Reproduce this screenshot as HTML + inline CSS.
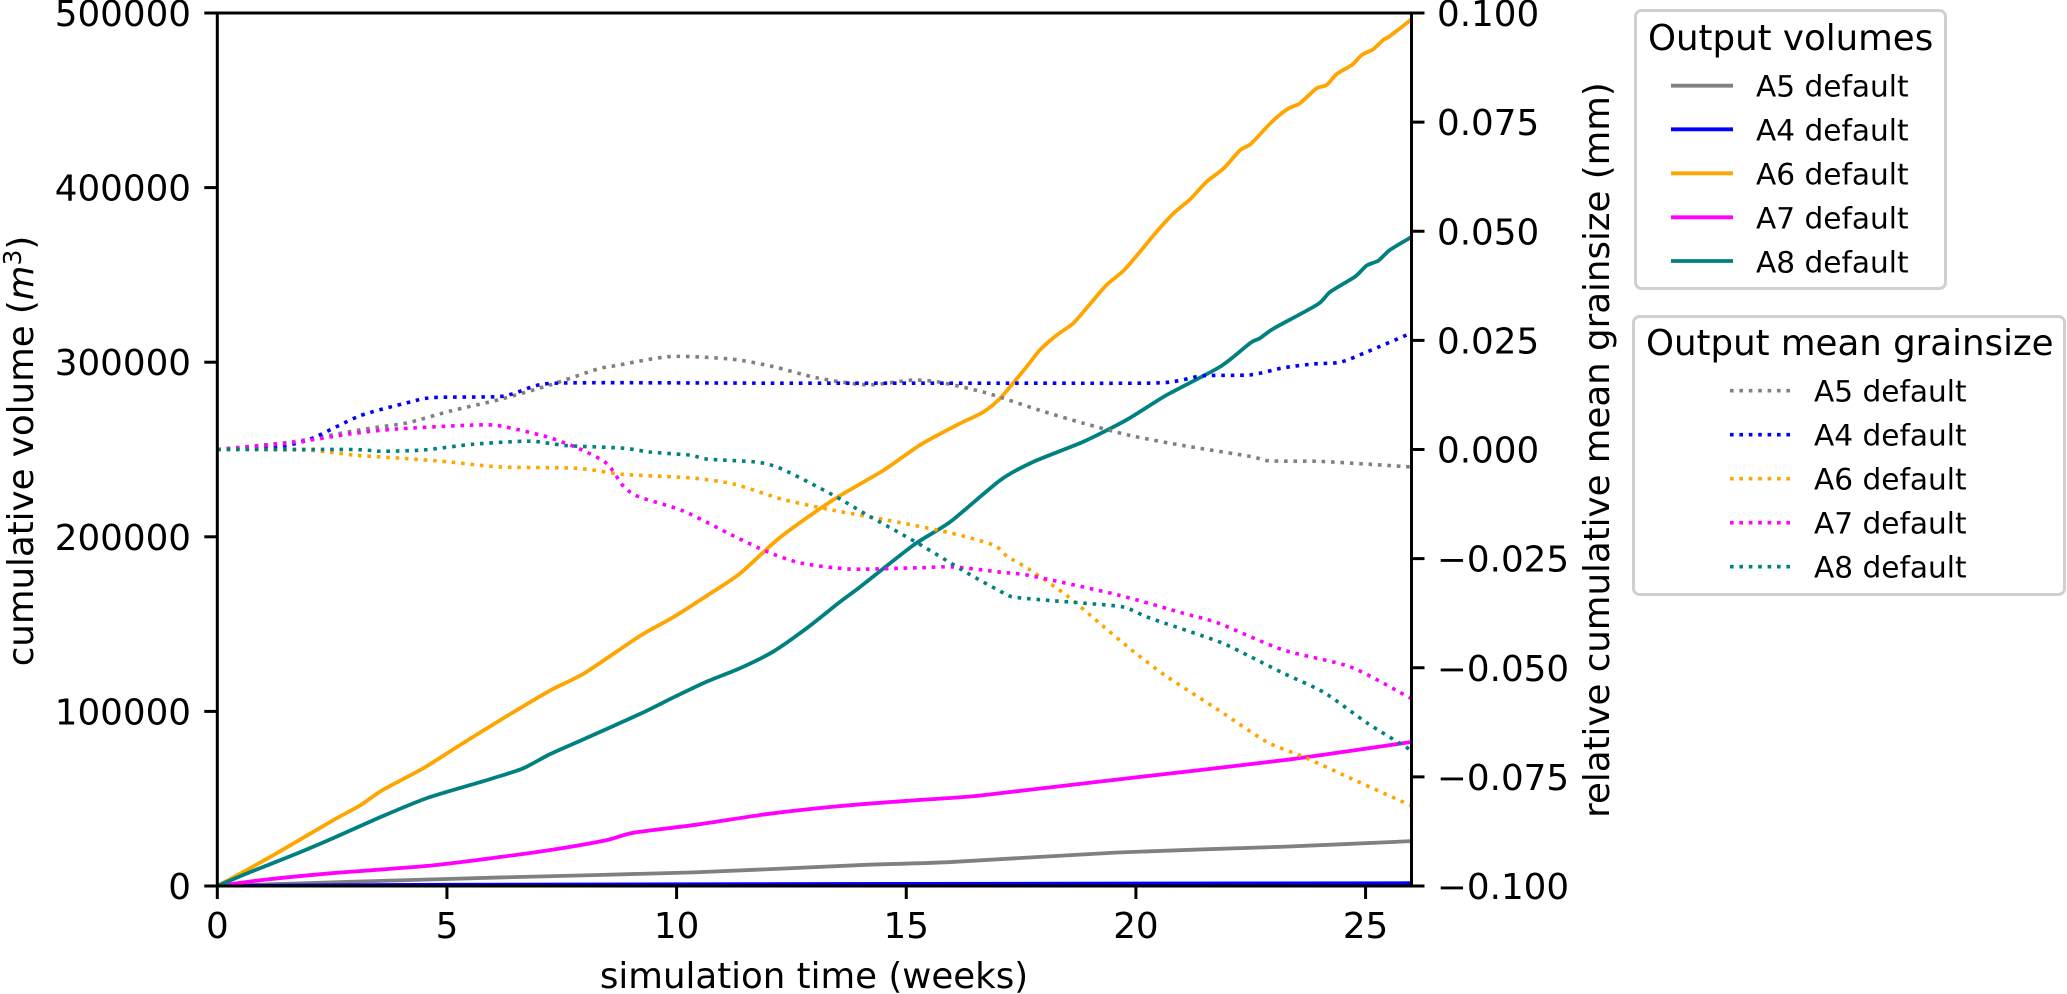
<!DOCTYPE html>
<html lang="en">
<head>
<meta charset="utf-8">
<title>Cumulative volume and mean grainsize</title>
<style>
html,body{margin:0;padding:0;background:#fff;width:2067px;height:994px;overflow:hidden}
svg{display:block}
text{font-family:"DejaVu Sans","Liberation Sans",sans-serif;fill:#000}
.tick{font-size:35.7px}
.axis-title{font-size:35.6px}
.lg-title{font-size:35.6px}
.lg-entry{font-size:29.6px}
.lg-box{fill:#fff;stroke:#d0d0d0;stroke-width:3}
.solid{fill:none;stroke-width:3.8;stroke-linejoin:round}
.dotted{fill:none;stroke-width:3.6;stroke-dasharray:3.6 5.8}
</style>
</head>
<body>
<svg id="chart" xmlns="http://www.w3.org/2000/svg" width="2067" height="994" viewBox="0 0 2067 994">
  <defs><clipPath id="plot-clip"><rect x="217.3" y="13" width="1194.2" height="873"/></clipPath></defs>
  <g id="series-volume" clip-path="url(#plot-clip)"></g>
  <g id="series-grain" clip-path="url(#plot-clip)"></g>
  <rect x="217.3" y="13" width="1194.2" height="873" fill="none" stroke="#000" stroke-width="3"/>
  <g id="ticks"></g>
  <text class="axis-title" x="814" y="988" text-anchor="middle">simulation time (weeks)</text>
  <text class="axis-title" transform="translate(33 451) rotate(-90)" text-anchor="middle">cumulative volume (<tspan font-style="italic">m</tspan><tspan font-size="25px" dy="-12">3</tspan><tspan dy="12">)</tspan></text>
  <text class="axis-title" transform="translate(1609 450) rotate(-90)" text-anchor="middle">relative cumulative mean grainsize (mm)</text>

  <g>
    <rect class="lg-box" x="1635.5" y="10.5" width="310" height="278" rx="6"/>
    <text class="lg-title" x="1648" y="50">Output volumes</text>
    <line x1="1671" x2="1733" y1="85.7" y2="85.7" stroke="#808080" stroke-width="3.8"/>
    <text class="lg-entry" x="1756" y="96.5">A5 default</text>
    <line x1="1671" x2="1733" y1="129.3" y2="129.3" stroke="#0000ff" stroke-width="3.8"/>
    <text class="lg-entry" x="1756" y="140.5">A4 default</text>
    <line x1="1671" x2="1733" y1="173.3" y2="173.3" stroke="#ffa500" stroke-width="3.8"/>
    <text class="lg-entry" x="1756" y="184.3">A6 default</text>
    <line x1="1671" x2="1733" y1="217.3" y2="217.3" stroke="#ff00ff" stroke-width="3.8"/>
    <text class="lg-entry" x="1756" y="228.3">A7 default</text>
    <line x1="1671" x2="1733" y1="261" y2="261" stroke="#008080" stroke-width="3.8"/>
    <text class="lg-entry" x="1756" y="272.3">A8 default</text>
  </g>

  <g>
    <rect class="lg-box" x="1633.5" y="316.5" width="431" height="278" rx="6"/>
    <text class="lg-title" x="1646" y="355">Output mean grainsize</text>
    <line class="dotted" x1="1730" x2="1790" y1="390.7" y2="390.7" stroke="#808080"/>
    <text class="lg-entry" x="1814" y="401.7">A5 default</text>
    <line class="dotted" x1="1730" x2="1790" y1="434.7" y2="434.7" stroke="#0000ff"/>
    <text class="lg-entry" x="1814" y="445.7">A4 default</text>
    <line class="dotted" x1="1730" x2="1790" y1="478.7" y2="478.7" stroke="#ffa500"/>
    <text class="lg-entry" x="1814" y="489.7">A6 default</text>
    <line class="dotted" x1="1730" x2="1790" y1="522.7" y2="522.7" stroke="#ff00ff"/>
    <text class="lg-entry" x="1814" y="533.7">A7 default</text>
    <line class="dotted" x1="1730" x2="1790" y1="566.7" y2="566.7" stroke="#008080"/>
    <text class="lg-entry" x="1814" y="577.7">A8 default</text>
  </g>
</svg>
<script>
// Tick labels
const xTicks = [0, 5, 10, 15, 20, 25];
const leftTicks = [0, 100000, 200000, 300000, 400000, 500000];
const rightTicks = [-0.1, -0.075, -0.05, -0.025, 0, 0.025, 0.05, 0.075, 0.1];

// Cumulative volumes (m3): weeks and values
const volA5T = [0, 3, 6.16, 10.37, 14, 15.96, 19.6, 23.2, 26];
const volA5V = [0, 2500, 4900, 7800, 12000, 13700, 19200, 22500, 25700];
const volA4T = [0, 5, 15, 26];
const volA4V = [0, 700, 1200, 1600];
const volA6T = [0, 0.72, 1.44, 2.53, 3.1, 3.6, 4.49, 5.3, 6.16, 7.25, 8, 9.2, 9.93, 10.65, 11.38, 12.26, 13.4, 14.5, 15.3, 16.1, 16.68, 17.05, 17.6, 17.91, 18.28, 18.64, 19, 19.36, 19.73, 20.09, 20.45, 20.82, 21.18, 21.54, 21.91, 22.27, 22.5, 22.96, 23.3, 23.57, 23.93, 24.15, 24.37, 24.7, 24.92, 25.17, 25.38, 25.53, 26];
const volA6V = [0, 10300, 21000, 37800, 46000, 55000, 67500, 81000, 95000, 112000, 122000, 143200, 154000, 166100, 179000, 199800, 221000, 238000, 252600, 264000, 271500, 279500, 296700, 307000, 315600, 322400, 333300, 344200, 352400, 363300, 374700, 385300, 393300, 403400, 411000, 421500, 425000, 437700, 445000, 448300, 456800, 458700, 465000, 470200, 476000, 479300, 484500, 486800, 496400];
const volA7T = [0, 1, 2.53, 4.57, 6.16, 7.25, 8.48, 9.06, 10.37, 11.97, 13.4, 15.02, 16.33, 17.48, 19.6, 23.2, 26];
const volA7V = [0, 3500, 7400, 11500, 16600, 20600, 26300, 30500, 34900, 41200, 45400, 48800, 51100, 54500, 61000, 72000, 82500];
const volA8T = [0, 0.72, 1.66, 2.53, 3.6, 4.57, 5.66, 6.16, 6.67, 7.25, 7.97, 9.2, 9.93, 10.65, 11.38, 12.1, 12.83, 13.56, 14, 15.16, 15.96, 17.05, 17.77, 18.86, 19.8, 20.67, 21.84, 22.49, 22.7, 23, 23.95, 24.23, 24.77, 25.02, 25.28, 25.53, 26];
const volA8V = [0, 8000, 17800, 27500, 40000, 50400, 59000, 63000, 67500, 75600, 84000, 98500, 108000, 117000, 124700, 134200, 147600, 162800, 171400, 195300, 208600, 232500, 243000, 254500, 267000, 281200, 297500, 311000, 313700, 319300, 333000, 340300, 349000, 355300, 358200, 364300, 371700];

// Relative cumulative mean grainsize (mm): weeks and values
const grainA5T = [0, 1.66, 3.1, 4.13, 5.07, 6.16, 7.25, 8.27, 8.67, 9.86, 11.2, 12.1, 13.06, 14.15, 15.13, 15.74, 16.55, 16.98, 17.9, 18.86, 19.88, 21.03, 22.5, 22.9, 23.95, 24.95, 26];
const grainA5V = [0, 0.0018, 0.0045, 0.0061, 0.0088, 0.0115, 0.0148, 0.0184, 0.0192, 0.0213, 0.0207, 0.019, 0.0164, 0.0148, 0.0159, 0.0154, 0.0135, 0.0122, 0.009, 0.006, 0.0032, 0.0009, -0.0016, -0.0026, -0.0027, -0.0033, -0.004];
const grainA4T = [0, 1.3, 2.03, 3.1, 4.13, 4.7, 6.1, 6.5, 7.1, 8.34, 12, 17, 20.25, 20.9, 21.47, 22.5, 23.2, 23.86, 24.45, 25.04, 26];
const grainA4V = [0, 0.0006, 0.0024, 0.0077, 0.0107, 0.0119, 0.0121, 0.013, 0.015, 0.0153, 0.0152, 0.0152, 0.0152, 0.0157, 0.0169, 0.0171, 0.0187, 0.0196, 0.02, 0.0224, 0.0267];
const grainA6T = [0, 2, 3, 4, 5, 6.16, 7.83, 8.84, 10.3, 11.24, 12.3, 13.4, 14.5, 15.96, 16.9, 17.2, 17.7, 18.5, 19.2, 19.95, 20.67, 21.8, 22.85, 23.65, 24.67, 25.87, 26];
const grainA6V = [0, -0.0002, -0.0013, -0.002, -0.0028, -0.004, -0.0043, -0.0057, -0.0065, -0.0079, -0.0114, -0.0139, -0.016, -0.0191, -0.0219, -0.0245, -0.0276, -0.0335, -0.0397, -0.0463, -0.052, -0.0597, -0.067, -0.0704, -0.0753, -0.081, -0.0815];
const grainA7T = [0, 1.66, 2.9, 3.9, 5.57, 6.16, 7.18, 7.94, 8.49, 8.84, 9.17, 10.15, 11.24, 11.97, 12.7, 13.78, 15.24, 16.03, 17.05, 17.7, 19.6, 21.03, 21.8, 23.2, 24.67, 25.9, 26];
const grainA7V = [0, 0.0016, 0.0036, 0.0047, 0.0056, 0.0054, 0.0029, -0.0001, -0.0033, -0.0084, -0.0108, -0.0141, -0.0198, -0.0234, -0.026, -0.0274, -0.0271, -0.0269, -0.0281, -0.0289, -0.0333, -0.0375, -0.0398, -0.0459, -0.0498, -0.0565, -0.057];
const grainA8T = [0, 2.9, 3.55, 4.5, 5.57, 6.8, 7.6, 8.84, 9.43, 10.3, 10.66, 11.75, 12.3, 13.4, 14.15, 15.24, 16.33, 17.05, 17.33, 18.14, 18.86, 19.73, 20.3, 21.8, 22.5, 23.2, 24.1, 25.04, 25.9, 26];
const grainA8V = [0, 0, -0.0004, -0.0001, 0.0012, 0.0019, 0.0009, 0.0003, -0.0006, -0.0013, -0.0022, -0.0029, -0.0045, -0.0104, -0.015, -0.0214, -0.0283, -0.0325, -0.0338, -0.0346, -0.0352, -0.0361, -0.0386, -0.044, -0.0475, -0.0512, -0.0557, -0.0627, -0.0683, -0.069];

const SVGNS = 'http://www.w3.org/2000/svg';
const plot = {left: 217.3, right: 1411.5, top: 13, bottom: 886};
const xMax = 26, leftMax = 500000, rightMin = -0.1, rightMax = 0.1;

function xScale(t) { return plot.left + (t / xMax) * (plot.right - plot.left); }
function yLeft(v) { return plot.bottom - (v / leftMax) * (plot.bottom - plot.top); }
function yRight(v) { return plot.bottom - ((v - rightMin) / (rightMax - rightMin)) * (plot.bottom - plot.top); }

function smoothPath(ts, vs, yFn) {
  const p = ts.map(function (t, i) { return [xScale(t), yFn(vs[i])]; });
  let d = 'M' + p[0][0].toFixed(2) + ' ' + p[0][1].toFixed(2);
  for (let i = 0; i < p.length - 1; i++) {
    const a = p[Math.max(i - 1, 0)], b = p[i], c = p[i + 1], e = p[Math.min(i + 2, p.length - 1)];
    const k = 0.12;
    d += 'C' + (b[0] + (c[0] - a[0]) * k).toFixed(2) + ' ' + (b[1] + (c[1] - a[1]) * k).toFixed(2) +
         ' ' + (c[0] - (e[0] - b[0]) * k).toFixed(2) + ' ' + (c[1] - (e[1] - b[1]) * k).toFixed(2) +
         ' ' + c[0].toFixed(2) + ' ' + c[1].toFixed(2);
  }
  return d;
}

function drawSeries(groupId, cls, color, ts, vs, yFn, name) {
  const el = document.createElementNS(SVGNS, 'path');
  el.setAttribute('d', smoothPath(ts, vs, yFn));
  el.setAttribute('class', cls);
  el.setAttribute('stroke', color);
  
  
  document.getElementById(groupId).appendChild(el);
}

const GREY = '#808080', BLUE = '#0000ff', ORANGE = '#ffa500', MAGENTA = '#ff00ff', TEAL = '#008080';

drawSeries('series-volume', 'solid', GREY, volA5T, volA5V, yLeft, 'line-a5-volume');
drawSeries('series-volume', 'solid', BLUE, volA4T, volA4V, yLeft, 'line-a4-volume');
drawSeries('series-volume', 'solid', ORANGE, volA6T, volA6V, yLeft, 'line-a6-volume');
drawSeries('series-volume', 'solid', MAGENTA, volA7T, volA7V, yLeft, 'line-a7-volume');
drawSeries('series-volume', 'solid', TEAL, volA8T, volA8V, yLeft, 'line-a8-volume');
drawSeries('series-grain', 'dotted', GREY, grainA5T, grainA5V, yRight, 'line-a5-grainsize');
drawSeries('series-grain', 'dotted', BLUE, grainA4T, grainA4V, yRight, 'line-a4-grainsize');
drawSeries('series-grain', 'dotted', ORANGE, grainA6T, grainA6V, yRight, 'line-a6-grainsize');
drawSeries('series-grain', 'dotted', MAGENTA, grainA7T, grainA7V, yRight, 'line-a7-grainsize');
drawSeries('series-grain', 'dotted', TEAL, grainA8T, grainA8V, yRight, 'line-a8-grainsize');

const tickGroup = document.getElementById('ticks');

function drawTick(x1, y1, x2, y2, name) {
  const el = document.createElementNS(SVGNS, 'line');
  el.setAttribute('x1', x1);
  el.setAttribute('y1', y1);
  el.setAttribute('x2', x2);
  el.setAttribute('y2', y2);
  el.setAttribute('stroke', '#000');
  el.setAttribute('stroke-width', '3');
  
  
  tickGroup.appendChild(el);
}

function drawLabel(x, y, anchor, str, name) {
  const el = document.createElementNS(SVGNS, 'text');
  el.setAttribute('x', x);
  el.setAttribute('y', y);
  el.setAttribute('text-anchor', anchor);
  el.setAttribute('class', 'tick');
  el.textContent = str;
  
  
  tickGroup.appendChild(el);
}

xTicks.forEach(function (t) {
  const x = xScale(t);
  drawTick(x, plot.bottom, x, plot.bottom + 13, 'x-tick');
  drawLabel(x, 938, 'middle', String(t), 'x-tick-label');
});
leftTicks.forEach(function (v) {
  const y = yLeft(v);
  drawTick(plot.left - 13, y, plot.left, y, 'left-y-tick');
  drawLabel(191, y + 13, 'end', String(v), 'left-y-tick-label');
});
rightTicks.forEach(function (v) {
  const y = yRight(v);
  const str = (v < 0 ? '\u2212' : '') + Math.abs(v).toFixed(3);
  drawTick(plot.right, y, plot.right + 13, y, 'right-y-tick');
  drawLabel(1437, y + 13, 'start', str, 'right-y-tick-label');
});
</script>
</body>
</html>
